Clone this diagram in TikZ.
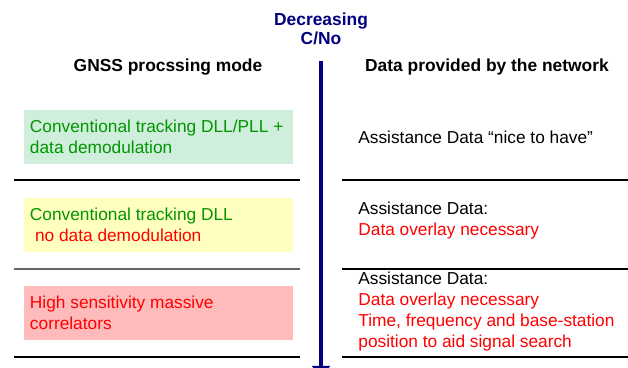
\documentclass[tikz,border=0pt]{standalone}
\usepackage{fontspec}
\setmainfont{Liberation Sans}
\usepackage{xcolor}
\usetikzlibrary{arrows.meta,positioning}

\definecolor{cnoblue}{RGB}{0,0,128}
\definecolor{modegreen}{RGB}{0,150,0}
\definecolor{greenfill}{RGB}{207,238,219}
\definecolor{yellowfill}{RGB}{255,255,192}
\definecolor{redfill}{RGB}{255,187,187}

\begin{document}
\begin{tikzpicture}[x=0.5pt, y=-0.5pt,
  modebox/.style={minimum width=134.5pt, minimum height=27pt, inner sep=0pt},
  bodytext/.style={font=\fontsize{8.65}{10.5}\selectfont, align=left, inner sep=0pt, anchor=west},
  heading/.style={font=\fontsize{8.7}{9.5}\selectfont\bfseries, inner sep=0pt},
  sepline/.style={line width=0.6pt}]

\useasboundingbox (0,0) rectangle (628,368);
\clip (0,0) rectangle (628,368);

% Headings
\node[heading, cnoblue, align=center] (cno) at (321,28.5) {Decreasing\\C/No};
\node[heading] (modehead) at (168,67) {GNSS procssing mode};
\node[heading] (nethead) at (487,67) {Data provided by the network};

% Decreasing C/No arrow
\coordinate (arrtop) at (321,61);
\coordinate (arrend) at (321,380);
\draw[cnoblue, line width=2pt, -{Triangle[width=8.5pt,length=7pt]}] (arrtop) -- (arrend);

% Processing modes
\node[modebox, fill=greenfill] (track) at (158.5,137) {};
\node[bodytext, modegreen] (tracktxt) at ([xshift=3pt]track.west) {Conventional tracking DLL/PLL +\\data demodulation};

\node[modebox, fill=yellowfill] (nodemod) at (158.5,225) {};
\node[bodytext, modegreen] (nodemodtxt) at ([xshift=3pt]nodemod.west) {Conventional tracking DLL\\\textcolor{red}{\hspace*{2.5pt}no data demodulation}};

\node[modebox, fill=redfill] (hisens) at (158.5,313) {};
\node[bodytext, red] (hisenstxt) at ([xshift=3pt]hisens.west) {High sensitivity massive\\correlators};

% Data from the network
\node[bodytext] (nice) at (358,137) {Assistance Data “nice to have”};
\node[bodytext] (overlay) at (358,220.5) {Assistance Data:\\\textcolor{red}{Data overlay necessary}};
\node[bodytext] (search) at (358,312) {Assistance Data:\\\textcolor{red}{Data overlay necessary}\\\textcolor{red}{Time, frequency and base-station}\\\textcolor{red}{position to aid signal search}};

% Separators
\foreach \y/\c in {180/black, 269/black!60, 357/black} {
  \draw[sepline, \c] (14,\y) -- (300,\y);
  \draw[sepline] (342,\y) -- (628,\y);
}

\end{tikzpicture}
\end{document}
